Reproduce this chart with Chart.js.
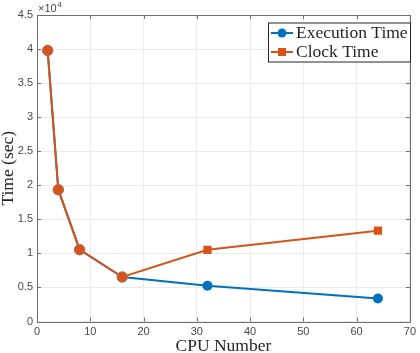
<!DOCTYPE html>
<html>
<head>
<meta charset="utf-8">
<script src="https://cdn.jsdelivr.net/npm/chart.js@4.4.1/dist/chart.umd.min.js"></script>
<style>
html,body{margin:0;padding:0;background:#fff;}
#wrap{width:420px;height:353px;position:relative;}
</style>
</head>
<body>
<div id="wrap"><canvas id="c" width="420" height="353"></canvas></div>
<script>
const cpuNumbers = [2, 4, 8, 16, 32, 64];
const executionTime = [39800, 19350, 10550, 6530, 5250, 3380];
const clockTime = [39800, 19350, 10550, 6530, 10530, 13330];
const seriesNames = ['Execution Time', 'Clock Time'];
const xTickValues = [0, 10, 20, 30, 40, 50, 60, 70];
const yTickValues = [0, 5000, 10000, 15000, 20000, 25000, 30000, 35000, 40000, 45000];
const xTitle = 'CPU Number';
const yTitle = 'Time (sec)';

const BLUE = '#0072BD';
const ORANGE = '#D95319';
const AXIS = '#6e6e6e';
const TICKTXT = '#4a4a4a';
const SERIF = '"Liberation Serif", "DejaVu Serif", serif';
const SANS = '"Liberation Sans", Arial, sans-serif';

const toPts = ys => cpuNumbers.map((x, i) => ({x: x, y: ys[i]}));

const decor = {
  id: 'decor',
  afterDraw(chart) {
    const ctx = chart.ctx;
    const a = chart.chartArea;
    const xs = chart.scales.x, ys = chart.scales.y;
    ctx.save();
    ctx.strokeStyle = AXIS;
    ctx.lineWidth = 1;
    ctx.beginPath();
    ctx.rect(Math.round(a.left) + 0.5, Math.round(a.top) + 0.5, Math.round(a.right - a.left), Math.round(a.bottom - a.top));
    ctx.stroke();
    const tl = 4;
    ctx.beginPath();
    xTickValues.forEach(v => {
      const px = Math.round(xs.getPixelForValue(v)) + 0.5;
      ctx.moveTo(px, a.bottom); ctx.lineTo(px, a.bottom - tl);
      ctx.moveTo(px, a.top); ctx.lineTo(px, a.top + tl);
    });
    yTickValues.forEach(v => {
      const py = Math.round(ys.getPixelForValue(v)) + 0.5;
      ctx.moveTo(a.left, py); ctx.lineTo(a.left + tl, py);
      ctx.moveTo(a.right, py); ctx.lineTo(a.right - tl, py);
    });
    ctx.stroke();
    ctx.fillStyle = TICKTXT;
    ctx.font = '11px ' + SANS;
    ctx.textAlign = 'left';
    ctx.textBaseline = 'alphabetic';
    ctx.fillText('\u00d710', a.left + 1, a.top - 3);
    const w = ctx.measureText('\u00d710').width;
    ctx.font = '8px ' + SANS;
    ctx.fillText('4', a.left + 1 + w + 0.5, a.top - 8);
    ctx.fillStyle = '#262626';
    ctx.font = '17.5px ' + SERIF;
    ctx.textAlign = 'center';
    ctx.textBaseline = 'alphabetic';
    ctx.fillText(xTitle, (a.left + a.right) / 2, 351);
    ctx.save();
    ctx.translate(13, (a.top + a.bottom) / 2);
    ctx.rotate(-Math.PI / 2);
    ctx.fillText(yTitle, 0, 0);
    ctx.restore();
    const lx = 268, ly = 22.5, lw = 142, lh = 39;
    ctx.fillStyle = '#fff';
    ctx.fillRect(lx, ly, lw, lh);
    ctx.strokeStyle = '#262626';
    ctx.lineWidth = 1;
    ctx.strokeRect(lx + 0.5, ly + 0.5, lw, lh);
    const rows = [
      {name: seriesNames[0], color: BLUE, style: 'circle', y: 33},
      {name: seriesNames[1], color: ORANGE, style: 'rect', y: 52}
    ];
    rows.forEach(r => {
      ctx.strokeStyle = r.color;
      ctx.lineWidth = 2;
      ctx.beginPath();
      ctx.moveTo(271, r.y); ctx.lineTo(293, r.y);
      ctx.stroke();
      ctx.fillStyle = r.color;
      if (r.style === 'circle') {
        ctx.beginPath(); ctx.arc(282, r.y, 4.5, 0, Math.PI * 2); ctx.fill();
      } else {
        ctx.fillRect(278, r.y - 4, 8, 8);
      }
      ctx.fillStyle = '#262626';
      ctx.font = '17.5px ' + SERIF;
      ctx.textAlign = 'left';
      ctx.textBaseline = 'middle';
      ctx.fillText(r.name, 296, r.y + 0.5);
    });
    ctx.restore();
  }
};

new Chart(document.getElementById('c'), {
  type: 'line',
  data: {
    datasets: [
      {
        label: seriesNames[0],
        order: 2,
        data: toPts(executionTime),
        borderColor: BLUE,
        backgroundColor: BLUE,
        borderWidth: 2,
        pointStyle: 'circle',
        pointRadius: 5,
        pointBorderWidth: 0,
        pointBackgroundColor: BLUE,
        tension: 0
      },
      {
        label: seriesNames[1],
        order: 1,
        data: toPts(clockTime),
        borderColor: ORANGE,
        backgroundColor: ORANGE,
        borderWidth: 2,
        pointStyle: ['circle', 'circle', 'circle', 'circle', 'rect', 'rect'],
        pointRadius: [5.3, 5.3, 5.3, 5.3, 5.8, 5.8],
        pointBorderWidth: [1, 1, 1, 1, 0, 0],
        pointBorderColor: ['#9a7a70', '#9a7a70', '#9a7a70', '#9a7a70', ORANGE, ORANGE],
        pointBackgroundColor: ORANGE,
        tension: 0
      }
    ]
  },
  options: {
    responsive: false,
    animation: false,
    layout: {padding: {top: 15, right: 6, left: 0, bottom: 0}},
    plugins: {legend: {display: false}, tooltip: {enabled: false}},
    scales: {
      x: {
        type: 'linear',
        min: 0, max: 70,
        afterFit: s => { s.height = 31.5; },
        afterBuildTicks: s => { s.ticks = xTickValues.map(v => ({value: v})); },
        grid: {color: '#ebebeb', drawTicks: false, lineWidth: 1},
        border: {display: false},
        ticks: {color: TICKTXT, font: {family: SANS, size: 11}, padding: 4, maxRotation: 0}
      },
      y: {
        type: 'linear',
        min: 0, max: 45000,
        afterFit: s => { s.width = 37; },
        afterBuildTicks: s => { s.ticks = yTickValues.map(v => ({value: v})); },
        grid: {color: '#ebebeb', drawTicks: false, lineWidth: 1},
        border: {display: false},
        ticks: {color: TICKTXT, font: {family: SANS, size: 11}, padding: 4,
          callback: v => String(v / 10000)}
      }
    }
  },
  plugins: [decor]
});
</script>
</body>
</html>
